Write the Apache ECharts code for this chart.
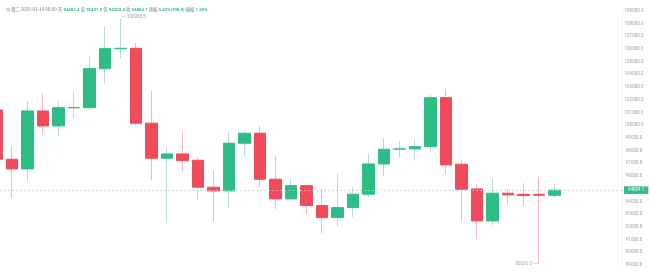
<!DOCTYPE html>
<html><head><meta charset="utf-8">
<script src="https://cdn.jsdelivr.net/npm/echarts@6/dist/echarts.min.js"></script>
<style>html,body{margin:0;padding:0;background:#fff}#c{width:650px;height:272px}</style>
</head><body><div id="c"></div>
<script>
const categories = ['2024-12-09','2024-12-10','2024-12-11','2024-12-12','2024-12-13','2024-12-14','2024-12-15','2024-12-16','2024-12-17','2024-12-18','2024-12-19','2024-12-20','2024-12-21','2024-12-22','2024-12-23','2024-12-24','2024-12-25','2024-12-26','2024-12-27','2024-12-28','2024-12-29','2024-12-30','2024-12-31','2025-01-01','2025-01-02','2025-01-03','2025-01-04','2025-01-05','2025-01-06','2025-01-07','2025-01-08','2025-01-09','2025-01-10','2025-01-11','2025-01-12','2025-01-13','2025-01-14'];
const opens  = [101193,97318,96555,101115,99936,101366,101374,104440,106013,106044,100148,97396,97734,97239,95116,94825,98575,99362,95745,94197,95242,93670,92726,93513,94566,96948,98112,98128,98308,102160,96925,94983,92467,94645,94566,94560,94483.4];
const closes = [97318,96555,101115,99936,101374,101382,104440,106013,106044,100148,97396,97734,97208,95116,94825,98575,99362,95745,94197,95242,93670,92726,93513,94566,96948,98104,98128,98308,102160,96870,94959,92467,94645,94511,94456,94483.4,94884.1];
const lows   = [97300,94252,95612,99252,99149,100541,101193,103292,105258,99936,95690,92286,96343,94173,92412,93513,97601,95116,93410,94063,92994,91500,92019,92758,94330,96028,97443,97208,97868,96138,92467,91028,92153,93780,93646,89101,94303.4];
const highs  = [101250,98308,101901,102506,101901,102632,105384,107742,108366.5,106484,102766,98230,99440,97396,96476,99440,99566,99936,97577,95690,95300,94983,96217,95116,97789,98969,98756,98835,102428,102821,97263,95352,95824,94983,95431,95903,95437];
const yTicks = {min: 89000, max: 109000, step: 1000};
const header = {day: '周二', time: '2025-01-14 08:00', open: '94483.4', high: '95437.0', low: '94303.4', close: '94884.1', change: '0.42%(398.8)', amp: '1.20%'};
const extremes = {max: 108366.5, maxIdx: 8, min: 89101.0, minIdx: 35};
const emptySlots = ['', '', '', ''];

const GREEN = '#2ebd85', RED = '#f04b5a';
const cats = categories.concat(emptySlots);
const wickData = categories.map((d, i) => ({
  value: [opens[i], closes[i], lows[i], highs[i]],
  itemStyle: closes[i] >= opens[i]
    ? {color: '#b9dccf', color0: '#b9dccf', borderColor: '#b9dccf', borderColor0: '#b9dccf'}
    : {color: '#f5b8bf', color0: '#f5b8bf', borderColor: '#f5b8bf', borderColor0: '#f5b8bf'}
}));
const bodyData = categories.map((d, i) => {
  const top = Math.max(opens[i], closes[i]), bot = Math.min(opens[i], closes[i]);
  return [opens[i], closes[i], bot, top];
});

const lbl = '#9aa5a1';
const chart = echarts.init(document.getElementById('c'), null, {renderer: 'canvas'});
chart.setOption({
  animation: false,
  backgroundColor: '#fff',
  title: {
    left: 1, top: 2,
    text: '{i|⊙} {g|' + header.day + ' ' + header.time + '} {g|开} {v|' + header.open + '} {g|高} {v|' + header.high + '} {g|低} {v|' + header.low + '} {g|收} {v|' + header.close + '} {g|涨幅} {v|' + header.change + '} {g|振幅} {v|' + header.amp + '}',
    textStyle: {
      fontSize: 4.3,
      rich: {
        i: {fontSize: 5, color: '#9aa5a1'},
        g: {fontSize: 4.3, color: '#a3aaa8', fontFamily: 'Noto Sans CJK SC'},
        v: {fontSize: 4.3, color: '#3bb98d', fontFamily: 'Roboto'}
      }
    }
  },
  grid: {left: -11.5, right: 26, top: 10.7, bottom: 7, containLabel: false, outerBoundsMode: 'none'},
  xAxis: {
    type: 'category', data: cats, boundaryGap: true,
    axisLine: {show: false}, axisTick: {show: false}, axisLabel: {show: false}, splitLine: {show: false}
  },
  yAxis: {
    type: 'value', position: 'right', offset: -2,
    min: yTicks.min, max: yTicks.max, interval: yTicks.step,
    axisLine: {show: true, lineStyle: {color: '#eef0ef'}},
    axisTick: {show: false},
    splitLine: {show: false},
    axisLabel: {
      show: true, align: 'center', margin: 12, fontSize: 4.5, color: lbl, fontFamily: 'Roboto',
      formatter: v => v.toFixed(1)
    }
  },
  series: [
    {
      type: 'candlestick', name: 'wick', data: wickData, barWidth: 1, z: 2,
      markPoint: {
        symbol: 'rect', symbolSize: [0, 0], silent: true,
        data: [
          {coord: [extremes.maxIdx, extremes.max], value: extremes.max,
           label: {show: true, position: 'right', distance: 1, formatter: '— ' + extremes.max.toFixed(1), fontSize: 4.5, color: lbl, offset: [0, -1.5]}},
          {coord: [extremes.minIdx, extremes.min], value: extremes.min,
           label: {show: true, position: 'left', distance: 1, formatter: extremes.min.toFixed(1) + ' —', fontSize: 4.5, color: lbl}}
        ]
      }
    },
    {
      type: 'candlestick', name: 'body', data: bodyData, barWidth: 12, z: 3,
      itemStyle: {color: GREEN, color0: RED, borderColor: GREEN, borderColor0: RED, borderWidth: 1},
      markLine: {
        symbol: ['none', 'none'], silent: true,
        lineStyle: {type: [1.5, 2.5], color: '#b7d3c9', width: 1},
        label: {
          show: true, position: 'end', distance: 0,
          formatter: p => p.value.toFixed(1),
          backgroundColor: GREEN, color: '#fff', fontSize: 4.5, fontFamily: 'Roboto',
          padding: [1.5, 4, 1, 4], borderRadius: 0
        },
        data: [{yAxis: closes[closes.length - 1]}]
      }
    }
  ]
});
</script></body></html>
